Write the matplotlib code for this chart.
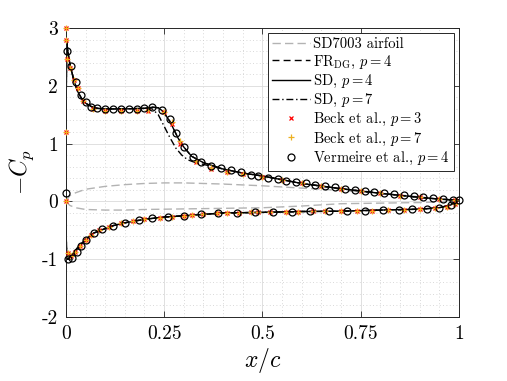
import numpy as np
import matplotlib
matplotlib.use("Agg")
import matplotlib.pyplot as plt
from matplotlib.ticker import MultipleLocator

plt.rcParams['font.family'] = ['cmr10']
plt.rcParams['mathtext.fontset'] = 'cm'
plt.rcParams['axes.unicode_minus'] = False
plt.rcParams['axes.formatter.use_mathtext'] = False

# SD7003 airfoil outline (scaled, as drawn)
foil_x_up = [0, 0.01, 0.025, 0.05, 0.1, 0.15, 0.2, 0.25, 0.3, 0.35, 0.4, 0.5, 0.6, 0.7, 0.8, 0.9, 1.0]
foil_y_up = [0, 0.1, 0.15, 0.21, 0.26, 0.29, 0.31, 0.32, 0.32, 0.31, 0.3, 0.27, 0.23, 0.19, 0.14, 0.08, 0.0]
foil_x_lo = [0, 0.01, 0.025, 0.05, 0.1, 0.15, 0.2, 0.3, 0.4, 0.5, 0.6, 0.7, 0.8, 0.9, 1.0]
foil_y_lo = [0, -0.07, -0.11, -0.14, -0.15, -0.15, -0.14, -0.13, -0.12, -0.11, -0.08, -0.04, -0.03, -0.02, 0]

# SD p=4 (FR_DG p=4 is on top of it)
sd4_x_lo = [1.0, 0.98, 0.95, 0.9, 0.8, 0.7, 0.6, 0.5, 0.4, 0.3, 0.25, 0.2, 0.15, 0.12, 0.1, 0.07,
            0.05, 0.03, 0.02, 0.01, 0.005, 0.002, 0.0005, 0.0]
sd4_cp_lo = [0.02, -0.06, -0.11, -0.135, -0.15, -0.17, -0.175, -0.19, -0.2, -0.25, -0.27, -0.31,
             -0.37, -0.42, -0.47, -0.55, -0.66, -0.8, -0.89, -0.97, -1.0, -0.98, -0.5, 0.0]
sd4_x_up = [0.0, 0.0005, 0.002, 0.005, 0.01, 0.02, 0.03, 0.04, 0.05, 0.065, 0.08, 0.1, 0.15, 0.2,
            0.22, 0.235, 0.245, 0.255, 0.265, 0.275, 0.285, 0.3, 0.32, 0.35, 0.4, 0.45, 0.5, 0.6,
            0.7, 0.8, 0.9, 0.95, 1.0]
sd4_cp_up = [0.0, 1.5, 2.75, 2.6, 2.38, 2.1, 1.9, 1.78, 1.7, 1.64, 1.61, 1.6, 1.6, 1.61,
             1.63, 1.62, 1.57, 1.48, 1.38, 1.24, 1.1, 0.94, 0.78, 0.67, 0.56, 0.49, 0.44, 0.31,
             0.22, 0.14, 0.07, 0.04, 0.02]

# SD p=7: earlier drop after the plateau
sd7_x_up = [0.0, 0.0005, 0.002, 0.005, 0.01, 0.02, 0.03, 0.04, 0.05, 0.065, 0.08, 0.1, 0.15, 0.2,
            0.22, 0.235, 0.25, 0.265, 0.28, 0.295, 0.31, 0.33, 0.35, 0.4, 0.45, 0.5, 0.6,
            0.7, 0.8, 0.9, 0.95, 1.0]
sd7_cp_up = [0.0, 1.5, 2.75, 2.6, 2.38, 2.1, 1.9, 1.78, 1.7, 1.64, 1.61, 1.6, 1.6, 1.61,
             1.6, 1.5, 1.3, 1.1, 0.92, 0.8, 0.72, 0.67, 0.64, 0.56, 0.49, 0.44, 0.31,
             0.22, 0.14, 0.07, 0.04, 0.02]

# Beck et al.
beck_x_up = [0.0, 0.0, 0.0, 0.004, 0.01, 0.02, 0.03, 0.044, 0.07, 0.1, 0.14, 0.18, 0.21, 0.25, 0.27,
             0.29, 0.33, 0.37, 0.41, 0.45, 0.5, 0.55, 0.6, 0.65, 0.7, 0.75, 0.8, 0.85, 0.9, 0.95, 0.99]
beck3_cp_up = [1.2, 3.0, 2.8, 2.47, 2.3, 2.1, 1.96, 1.74, 1.6, 1.56, 1.56, 1.56, 1.57, 1.54, 1.34,
               1.0, 0.68, 0.56, 0.5, 0.47, 0.42, 0.37, 0.31, 0.26, 0.22, 0.18, 0.14, 0.1, 0.07, 0.04, 0.02]
beck7_cp_up = [1.2, 3.0, 2.8, 2.47, 2.3, 2.1, 1.96, 1.74, 1.6, 1.57, 1.57, 1.57, 1.58, 1.55, 1.38,
               1.05, 0.7, 0.57, 0.5, 0.47, 0.42, 0.37, 0.31, 0.26, 0.22, 0.18, 0.14, 0.1, 0.07, 0.04, 0.02]
beck_x_lo = [0.0, 0.005, 0.012, 0.022, 0.035, 0.05, 0.065, 0.085, 0.11, 0.14, 0.17, 0.2, 0.24, 0.27,
             0.3, 0.32, 0.35, 0.385, 0.41, 0.44, 0.47, 0.49, 0.52, 0.56, 0.59, 0.63, 0.66, 0.7,
             0.74, 0.78, 0.82, 0.86, 0.9, 0.94, 0.97, 0.99]
beck_cp_lo = [0.0, -0.9, -0.95, -0.88, -0.78, -0.67, -0.58, -0.5, -0.44, -0.38, -0.34, -0.31, -0.28, -0.27,
              -0.25, -0.24, -0.22, -0.2, -0.2, -0.2, -0.19, -0.19, -0.18, -0.18, -0.18, -0.17, -0.17, -0.17,
              -0.16, -0.16, -0.15, -0.15, -0.14, -0.12, -0.09, -0.04]

# Vermeire et al.
verm_x_up = [0.0, 0.002, 0.012, 0.025, 0.038, 0.05, 0.065, 0.08, 0.1, 0.12, 0.14, 0.16, 0.18, 0.2,
             0.22, 0.245, 0.265, 0.28, 0.3, 0.323, 0.345, 0.37, 0.395, 0.42, 0.445, 0.47, 0.49,
             0.515, 0.54, 0.56, 0.585, 0.61, 0.635, 0.66, 0.685, 0.71, 0.735, 0.76, 0.785, 0.81,
             0.835, 0.86, 0.885, 0.91, 0.935, 0.96, 0.985, 1.0]
verm_cp_up = [0.15, 2.6, 2.35, 2.07, 1.84, 1.72, 1.64, 1.61, 1.6, 1.6, 1.6, 1.6, 1.6, 1.61,
              1.63, 1.58, 1.42, 1.18, 0.94, 0.77, 0.68, 0.62, 0.58, 0.54, 0.5, 0.46, 0.44,
              0.41, 0.38, 0.36, 0.33, 0.31, 0.29, 0.27, 0.25, 0.22, 0.2, 0.18, 0.16, 0.14,
              0.12, 0.11, 0.09, 0.07, 0.06, 0.04, 0.03, 0.02]
verm_x_lo = [0.005, 0.015, 0.027, 0.038, 0.05, 0.072, 0.093, 0.12, 0.15, 0.185, 0.22, 0.26, 0.3,
             0.345, 0.387, 0.435, 0.48, 0.527, 0.575, 0.62, 0.67, 0.715, 0.76, 0.806, 0.847,
             0.88, 0.92, 0.95, 0.98]
verm_cp_lo = [-1.0, -0.98, -0.87, -0.77, -0.67, -0.55, -0.48, -0.42, -0.37, -0.32, -0.29, -0.27, -0.25,
              -0.22, -0.2, -0.2, -0.19, -0.18, -0.18, -0.17, -0.17, -0.17, -0.16, -0.15, -0.15,
              -0.14, -0.13, -0.11, -0.06]

fig = plt.figure(figsize=(5.07, 3.81), dpi=100)
ax = fig.add_axes([0.130, 0.168, 0.775, 0.7585])

# airfoil
ax.plot(foil_x_up, foil_y_up, color=(0.7, 0.7, 0.7), lw=1.0, dashes=(6, 3), label='SD7003 airfoil')
ax.plot(foil_x_lo, foil_y_lo, color=(0.7, 0.7, 0.7), lw=1.0, dashes=(6, 3))

# closed loops: lower surface TE->LE then upper surface LE->TE
fr_x = sd4_x_lo + sd4_x_up
fr_cp = sd4_cp_lo + sd4_cp_up
sd7_x = sd4_x_lo + sd7_x_up
sd7_cp = sd4_cp_lo + sd7_cp_up
ax.plot(fr_x, fr_cp, color='k', lw=1.0, dashes=(5, 3), label=r'FR$_{\rm DG}$, $p=4$')
ax.plot(fr_x, fr_cp, color='k', lw=1.0, ls='-', label=r'SD, $p=4$')
ax.plot(sd7_x, sd7_cp, color='k', lw=1.0, dashes=(5, 2, 1, 2), label=r'SD, $p=7$')

ax.plot(beck_x_up + beck_x_lo, beck3_cp_up + beck_cp_lo, ls='none', marker='x', ms=3.5,
        mew=0.9, color=(1, 0, 0), label=r'Beck et al., $p=3$', clip_on=False, zorder=4)
ax.plot(beck_x_up + beck_x_lo, beck7_cp_up + beck_cp_lo, ls='none', marker='+', ms=5,
        mew=0.9, color=(0.93, 0.69, 0.13), label=r'Beck et al., $p=7$', clip_on=False, zorder=4)
ax.plot(verm_x_up + verm_x_lo, verm_cp_up + verm_cp_lo, ls='none', marker='o', ms=5,
        mew=0.9, mfc='none', mec='k', label=r'Vermeire et al., $p=4$', clip_on=False, zorder=5)

ax.set_xlim(0, 1)
ax.set_ylim(-2, 3)
ax.set_xticks([0, 0.25, 0.5, 0.75, 1])
ax.set_xticklabels(['0', '0.25', '0.5', '0.75', '1'])
ax.set_yticks([-2, -1, 0, 1, 2, 3])
ax.set_yticklabels(['-2', '-1', '0', '1', '2', '3'])
ax.xaxis.set_minor_locator(MultipleLocator(0.05))
ax.yaxis.set_minor_locator(MultipleLocator(0.2))
ax.grid(True, which='major', color=(0.86, 0.86, 0.86), lw=0.6)
ax.grid(True, which='minor', color=(0.8, 0.8, 0.8), lw=0.6, ls=(0, (1, 3)))
ax.set_axisbelow(True)
ax.tick_params(which='major', direction='in', length=4, width=0.6, top=True, right=True,
               labelsize=14, color=(0.15, 0.15, 0.15), pad=6)
ax.tick_params(which='minor', length=0, top=True, right=True)
for s in ax.spines.values():
    s.set_color((0.15, 0.15, 0.15))
    s.set_linewidth(0.7)

ax.set_xlabel(r'$x/c$', fontsize=17, labelpad=2)
ax.set_ylabel(r'$-C_p$', fontsize=17, labelpad=4)

leg = ax.legend(loc='upper right', bbox_to_anchor=(0.987, 0.982), borderaxespad=0, fontsize=10.5,
                handlelength=2.6, handletextpad=0.15, labelspacing=0.15, borderpad=0.3,
                fancybox=False, framealpha=1, edgecolor=(0.15, 0.15, 0.15))
leg.get_frame().set_linewidth(0.7)

fig.savefig('out.png', dpi=100)
